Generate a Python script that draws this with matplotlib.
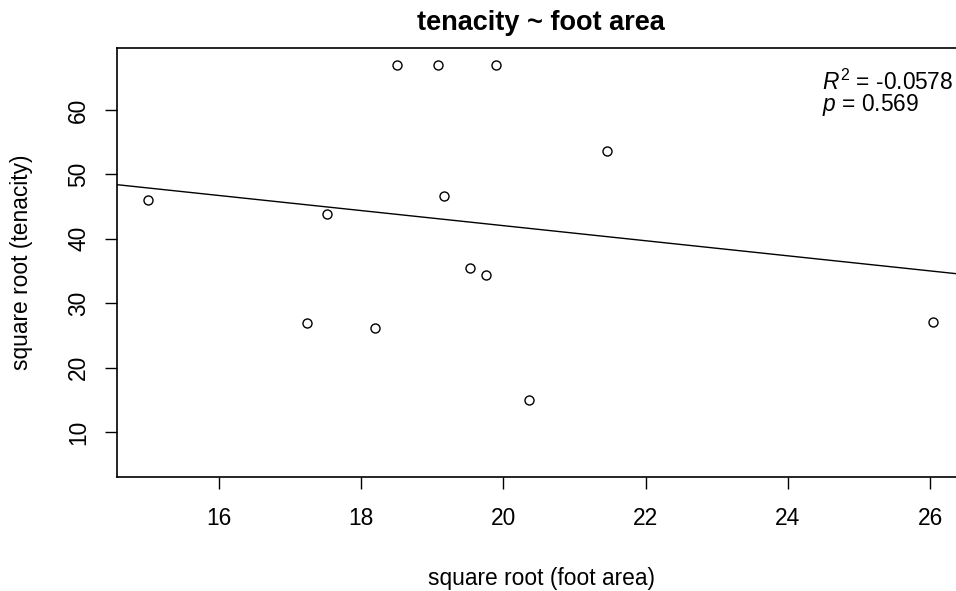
import numpy as np
import matplotlib
matplotlib.use('Agg')
import matplotlib.pyplot as plt

plt.rcParams['font.family'] = ['Liberation Sans', 'DejaVu Sans']
plt.rcParams['mathtext.fontset'] = 'custom'
plt.rcParams['mathtext.rm'] = 'Liberation Sans'
plt.rcParams['mathtext.it'] = 'Liberation Sans:italic'

# square root (foot area) vs square root (tenacity)
foot_area = [15.00, 17.24, 17.52, 18.19, 18.50, 19.08, 19.16, 19.53, 19.76, 19.90, 20.36, 21.46, 26.04]
tenacity = [46.1, 26.9, 43.9, 26.2, 67.0, 67.0, 46.6, 35.5, 34.4, 67.0, 14.9, 53.6, 27.1]
r2_text = '-0.0578'
p_text = '0.569'
x_ticks = [16, 18, 20, 22, 24, 26]
y_ticks = [10, 20, 30, 40, 50, 60]

fs = 16.4  # R cex=1 on this device

fig = plt.figure(figsize=(9.56, 5.91), dpi=100)
ax = fig.add_axes([117 / 956, 1 - 477 / 591, (965 - 117) / 956, (477 - 48) / 591])

ax.plot(foot_area, tenacity, 'o', mfc='none', mec='black', ms=6.5, mew=1.0)

# least squares fit, drawn across the whole panel like abline()
slope, intercept = np.polyfit(foot_area, tenacity, 1)
xlim = (14.565, 26.49)
xs = np.array(xlim)
ax.plot(xs, intercept + slope * xs, color='black', lw=1.0)

ax.set_xlim(*xlim)
ax.set_ylim(3.01, 69.63)
ax.set_xticks(x_ticks)
ax.set_yticks(y_ticks)
ax.set_yticklabels([str(v) for v in y_ticks], rotation=90, va='center')
ax.tick_params(direction='out', length=8.6, width=1, labelsize=fs)
ax.tick_params(axis='x', pad=13)
ax.tick_params(axis='y', pad=10.8)
for s in ax.spines.values():
    s.set_linewidth(1.2)

ax.set_xlabel('square root (foot area)', fontsize=fs, va='center')
ax.set_ylabel('square root (tenacity)', fontsize=fs, va='center')
ax.xaxis.set_label_coords(0.5, (477 - 578) / 429)
ax.yaxis.set_label_coords((21 - 117) / 848, 0.5)
ax.set_title('tenacity ~ foot area', fontsize=19.5, fontweight='bold', pad=13)

# legend-like stats block, one text with two tight lines
stats = r'$R^2$' + ' = ' + r2_text + '\n' + r'$p$' + ' = ' + p_text
ax.text(24.48, 66.3, stats, fontsize=fs, va='top', ha='left', linespacing=0.88)

fig.savefig('out.png', dpi=100)
